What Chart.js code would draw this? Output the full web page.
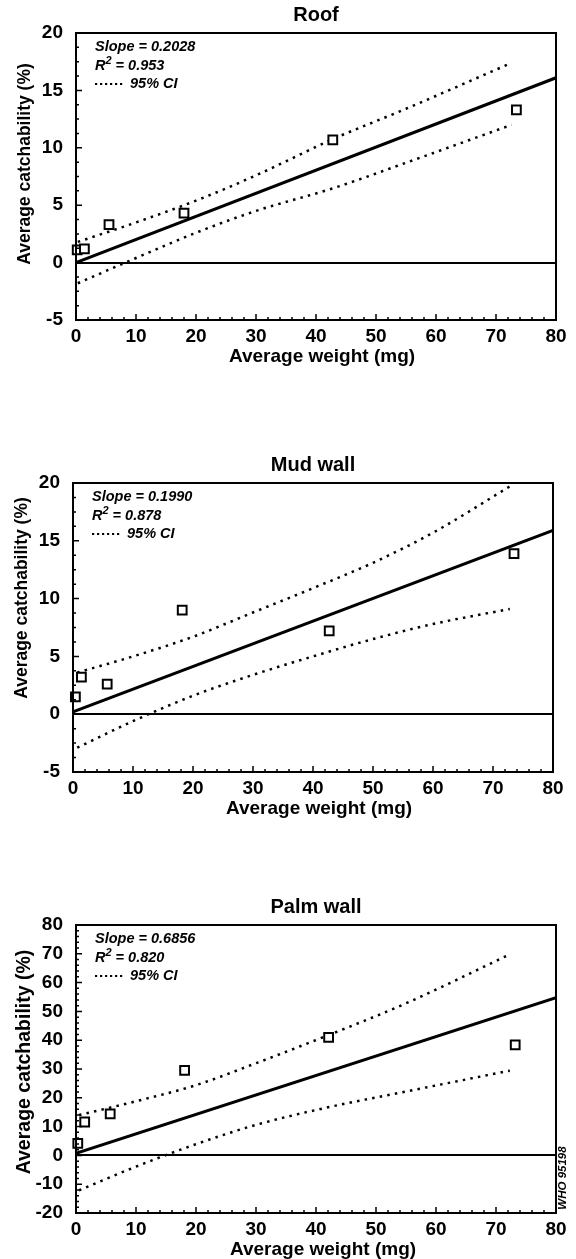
<!DOCTYPE html>
<html>
<head>
<meta charset="utf-8">
<title>Average catchability vs average weight</title>
<script src="https://cdn.jsdelivr.net/npm/chart.js@4.4.1/dist/chart.umd.min.js"></script>
<style>
  html, body { margin: 0; padding: 0; background: #fff; overflow: hidden; }
  body { width: 576px; height: 1259px; position: relative; }
  canvas { position: absolute; left: 0; }
</style>
</head>
<body>
<canvas id="roofChart" width="576" height="372" style="top:0px"></canvas>
<canvas id="mudChart" width="576" height="390" style="top:440px"></canvas>
<canvas id="palmChart" width="576" height="379" style="top:880px"></canvas>
<script>
// ---- data ----
// Roof
const roofWeight = [0.2, 1.4, 5.5, 18.0, 42.8, 73.4];
const roofCatch = [1.1, 1.2, 3.3, 4.3, 10.7, 13.3];
const roofFitX = [0, 80];
const roofFitY = [0.0, 16.1];
const roofCiX = [0.3, 10, 20, 30, 43, 55, 72.6];
const roofCiUpper = [1.8, 3.5, 5.4, 7.6, 10.8, 13.4, 17.4];
const roofCiLower = [-1.8, 0.4, 2.6, 4.5, 6.5, 8.7, 12.0];
const roofYTicks = [-5, 0, 5, 10, 15, 20];

// Mud wall
const mudWeight = [0.4, 1.4, 5.7, 18.2, 42.7, 73.5];
const mudCatch = [1.5, 3.2, 2.6, 9.0, 7.2, 13.9];
const mudFitX = [0, 80];
const mudFitY = [0.2, 15.9];
const mudCiX = [0.7, 10, 20, 30, 40, 50, 60, 72.8];
const mudCiUpper = [3.6, 5.0, 6.7, 8.8, 10.9, 13.1, 15.7, 19.7];
const mudCiLower = [-2.9, -0.6, 1.6, 3.4, 5.0, 6.5, 7.8, 9.1];
const mudYTicks = [-5, 0, 5, 10, 15, 20];

// Palm wall
const palmWeight = [0.3, 1.45, 5.7, 18.1, 42.1, 73.2];
const palmCatch = [4.2, 11.6, 14.4, 29.5, 41.0, 38.4];
const palmFitX = [0, 80];
const palmFitY = [0.7, 54.8];
const palmCiX = [0.5, 10, 20, 30, 42, 55, 72.3];
const palmCiUpper = [14.0, 18.8, 24.4, 32.0, 41.7, 52.8, 69.8];
const palmCiLower = [-12.1, -3.9, 3.9, 10.6, 16.7, 22.2, 29.4];
const palmYTicks = [-20, -10, 0, 10, 20, 30, 40, 50, 60, 70, 80];

const xTicks = [0, 10, 20, 30, 40, 50, 60, 70, 80];

const FONT = '"Liberation Sans", Arial, Helvetica, sans-serif';

function pairs(xs, ys) {
    return xs.map((x, i) => ({ x: x, y: ys[i] }));
}

// frame, inside tick marks and the texts around each panel
const panelDecor = {
    id: 'panelDecor',
    afterDraw(chart, args, o) {
        const ctx = chart.ctx;
        const a = chart.chartArea;
        const xs = chart.scales.x;
        const ys = chart.scales.y;
        ctx.save();
        ctx.strokeStyle = '#000';
        ctx.fillStyle = '#000';

        // ticks point inwards, left and bottom only
        ctx.lineWidth = 1.5;
        ctx.beginPath();
        let n = Math.round((xs.max - xs.min) / o.xMinor);
        for (let i = 0; i <= n; i++) {
            const v = xs.min + i * o.xMinor;
            const px = xs.getPixelForValue(v);
            const major = Math.abs(v / o.xMajor - Math.round(v / o.xMajor)) < 1e-6;
            ctx.moveTo(px, a.bottom);
            ctx.lineTo(px, a.bottom - (major ? 6 : 3));
        }
        n = Math.round((ys.max - ys.min) / o.yMinor);
        for (let i = 0; i <= n; i++) {
            const v = ys.min + i * o.yMinor;
            const py = ys.getPixelForValue(v);
            const major = Math.abs(v / o.yMajor - Math.round(v / o.yMajor)) < 1e-6;
            ctx.moveTo(a.left, py);
            ctx.lineTo(a.left + (major ? 6 : 3), py);
        }
        ctx.stroke();

        ctx.lineWidth = 2;
        ctx.strokeRect(a.left, a.top, a.right - a.left, a.bottom - a.top);

        // panel title
        ctx.textBaseline = 'middle';
        ctx.textAlign = 'center';
        ctx.font = 'bold 20px ' + FONT;
        ctx.fillText(o.title, o.titleX, a.top - 18);

        // axis titles
        ctx.font = 'bold 19px ' + FONT;
        ctx.fillText('Average weight (mg)', o.xTitleX, a.bottom + 36.5);
        ctx.save();
        ctx.translate(o.yTitleX, o.yTitleY - chart.canvas.offsetTop);
        ctx.rotate(-Math.PI / 2);
        ctx.font = 'bold ' + o.yTitleSize + 'px ' + FONT;
        ctx.fillText('Average catchability (%)', 0, 0);
        ctx.restore();

        // statistics box
        ctx.textAlign = 'left';
        const lx = a.left + 19;
        ctx.font = 'italic bold 14.5px ' + FONT;
        ctx.fillText('Slope = ' + o.slope, lx, a.top + 14);
        ctx.fillText('R', lx, a.top + 33);
        let w = ctx.measureText('R').width;
        ctx.font = 'italic bold 11px ' + FONT;
        ctx.fillText('2', lx + w, a.top + 28);
        w += ctx.measureText('2').width;
        ctx.font = 'italic bold 14.5px ' + FONT;
        ctx.fillText(' = ' + o.r2, lx + w, a.top + 33);

        ctx.lineWidth = 2.2;
        ctx.setLineDash([2.2, 2.8]);
        ctx.beginPath();
        ctx.moveTo(lx, a.top + 51);
        ctx.lineTo(lx + 29, a.top + 51);
        ctx.stroke();
        ctx.setLineDash([]);
        ctx.fillText('95% CI', lx + 35, a.top + 51);

        if (o.note) {
            ctx.save();
            ctx.translate(o.noteX, o.noteY - chart.canvas.offsetTop);
            ctx.rotate(-Math.PI / 2);
            ctx.textAlign = 'center';
            ctx.font = 'italic bold 11.5px ' + FONT;
            ctx.fillText(o.note, 0, 0);
            ctx.restore();
        }
        ctx.restore();
    }
};

function makePanel(p) {
    const canvas = document.getElementById(p.id);
    const top = parseInt(canvas.style.top, 10);
    const h = canvas.height;
    const tickFont = { family: FONT, size: 19, weight: 'bold', lineHeight: 1.2 };

    new Chart(canvas.getContext('2d'), {
        type: 'scatter',
        data: {
            datasets: [
                {
                    data: pairs(p.weight, p.catch),
                    pointStyle: 'rect',
                    pointRadius: 6.2,
                    pointBorderWidth: 2,
                    pointBorderColor: '#000',
                    pointBackgroundColor: '#fff',
                    showLine: false,
                    clip: false
                },
                {
                    data: pairs(p.fitX, p.fitY),
                    showLine: true,
                    borderColor: '#000',
                    borderWidth: 3,
                    pointRadius: 0
                },
                {
                    data: pairs(p.ciX, p.ciUpper),
                    showLine: true,
                    borderColor: '#000',
                    borderWidth: 2.5,
                    borderDash: [2.5, 5.2],
                    cubicInterpolationMode: 'monotone',
                    pointRadius: 0
                },
                {
                    data: pairs(p.ciX, p.ciLower),
                    showLine: true,
                    borderColor: '#000',
                    borderWidth: 2.5,
                    borderDash: [2.5, 5.2],
                    cubicInterpolationMode: 'monotone',
                    pointRadius: 0
                }
            ]
        },
        options: {
            responsive: false,
            animation: false,
            events: [],
            layout: {
                padding: { left: 0, top: p.area.top - top, right: 576 - p.area.right, bottom: 0 }
            },
            scales: {
                x: {
                    type: 'linear',
                    min: 0,
                    max: 80,
                    afterBuildTicks: s => { s.ticks = xTicks.map(v => ({ value: v })); },
                    afterFit: s => { s.height = h - (p.area.bottom - top); },
                    grid: { display: false, drawTicks: false },
                    border: { display: false },
                    ticks: { color: '#000', font: tickFont, padding: 5, maxRotation: 0, autoSkip: false }
                },
                y: {
                    type: 'linear',
                    min: p.yTicks[0],
                    max: p.yTicks[p.yTicks.length - 1],
                    afterBuildTicks: s => { s.ticks = p.yTicks.map(v => ({ value: v })); },
                    afterFit: s => { s.width = p.area.left; },
                    grid: {
                        drawTicks: false,
                        lineWidth: 2,
                        color: c => (c.tick && c.tick.value === 0 ? '#000' : 'rgba(0,0,0,0)')
                    },
                    border: { display: false },
                    ticks: { color: '#000', font: tickFont, padding: 13 }
                }
            },
            plugins: {
                legend: { display: false },
                tooltip: { enabled: false },
                panelDecor: p.decor
            }
        },
        plugins: [panelDecor]
    });
}

makePanel({
    id: 'roofChart',
    area: { left: 76, right: 556, top: 33, bottom: 320 },
    weight: roofWeight, catch: roofCatch,
    fitX: roofFitX, fitY: roofFitY,
    ciX: roofCiX, ciUpper: roofCiUpper, ciLower: roofCiLower,
    yTicks: roofYTicks,
    decor: {
        title: 'Roof', titleX: 316, xTitleX: 322, yTitleX: 25, yTitleY: 164, yTitleSize: 17.5,
        slope: '0.2028', r2: '0.953',
        xMajor: 10, xMinor: 2, yMajor: 5, yMinor: 1.25
    }
});

makePanel({
    id: 'mudChart',
    area: { left: 73, right: 553, top: 483, bottom: 772 },
    weight: mudWeight, catch: mudCatch,
    fitX: mudFitX, fitY: mudFitY,
    ciX: mudCiX, ciUpper: mudCiUpper, ciLower: mudCiLower,
    yTicks: mudYTicks,
    decor: {
        title: 'Mud wall', titleX: 313, xTitleX: 319, yTitleX: 22, yTitleY: 598, yTitleSize: 17.5,
        slope: '0.1990', r2: '0.878',
        xMajor: 10, xMinor: 2, yMajor: 5, yMinor: 1.25
    }
});

makePanel({
    id: 'palmChart',
    area: { left: 76, right: 556, top: 925, bottom: 1213 },
    weight: palmWeight, catch: palmCatch,
    fitX: palmFitX, fitY: palmFitY,
    ciX: palmCiX, ciUpper: palmCiUpper, ciLower: palmCiLower,
    yTicks: palmYTicks,
    decor: {
        title: 'Palm wall', titleX: 316, xTitleX: 323, yTitleX: 25, yTitleY: 1062, yTitleSize: 19.5,
        slope: '0.6856', r2: '0.820',
        xMajor: 10, xMinor: 2, yMajor: 10, yMinor: 2,
        note: 'WHO 95198', noteX: 563, noteY: 1178
    }
});
</script>
</body>
</html>
